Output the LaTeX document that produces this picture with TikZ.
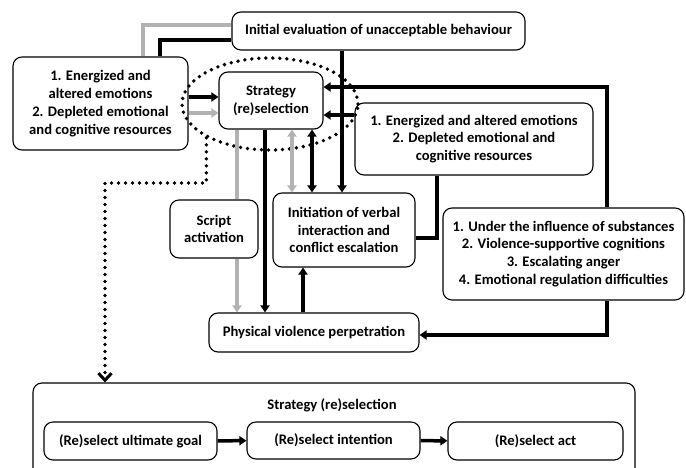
\documentclass[tikz,border=0pt]{standalone}
\usepackage{fontspec}
\setmainfont{Carlito}
\usetikzlibrary{arrows.meta,shapes.geometric}

\begin{document}
\begin{tikzpicture}[x=1pt,y=-1pt,
	box/.style={draw,rounded corners=9pt,line width=1.1pt,align=center,inner sep=0pt,
		font=\bfseries\fontsize{14.6}{17.8}\selectfont},
	blk/.style={line width=3.5pt},
	gry/.style={line width=3.5pt,gray!60},
	dots/.style={line width=3.8pt,line cap=round,dash pattern=on 0pt off 7pt},
	>={Triangle[length=7pt,width=9pt]}]
	\useasboundingbox (0,0) rectangle (686,468);
				\node[box,minimum width=293pt,minimum height=38pt] (eval) at (378.5,31) {Initial evaluation of unacceptable behaviour};
				\node[box,minimum width=175pt,minimum height=93pt] (emoL) at (100.5,103.5) {1. Energized and\\altered emotions\\2. Depleted emotional\\and cognitive resources};
				\node[box,minimum width=104pt,minimum height=57pt] (strat) at (271,100.5) {Strategy\\(re)selection};
				\node[box,minimum width=238pt,minimum height=72pt] (emoR) at (474,139) {1. Energized and altered emotions\\2. Depleted emotional and\\cognitive resources};
				\node[box,minimum width=88pt,minimum height=58pt] (script) at (214,229) {Script\\activation};
				\node[box,minimum width=142pt,minimum height=74pt] (init) at (344,230) {Initiation of verbal\\interaction and\\conflict escalation};
				\node[box,minimum width=210pt,minimum height=39pt] (phys) at (314,332.5) {Physical violence perpetration};
				\node[box,minimum width=241pt,minimum height=92pt] (under) at (563.5,254) {1. Under the influence of substances\\2. Violence-supportive cognitions\\3. Escalating anger\\4. Emotional regulation difficulties};
				\node[box,minimum width=602pt,minimum height=94pt] (big) at (334,430) {};
				\node[font=\bfseries\fontsize{14.6}{17.8}\selectfont] (title) at (332,405) {Strategy (re)selection};
				\node[box,minimum width=173pt,minimum height=38pt] (goal) at (130.5,441) {(Re)select ultimate goal};
				\node[box,minimum width=173pt,minimum height=37pt] (intent) at (333.5,440.5) {(Re)select intention};
				\node[box,minimum width=175pt,minimum height=38pt] (act) at (535.5,441) {(Re)select act};
				\node[draw,ellipse,dots,minimum width=176pt,minimum height=92pt] (ring) at (270,104) {};
				\draw[gry] ([yshift=6pt]eval.west) -| ([xshift=42.5pt]emoL.north);
				\draw[blk] ([yshift=-9pt]eval.west) -| ([xshift=59.5pt]emoL.north);
				\coordinate (a1) at ([yshift=6.5pt]emoL.east);
				\coordinate (a2) at ([yshift=-9.5pt]emoL.east);
				\draw[blk,->] (a1) -- (a1 -| strat.west);
				\draw[gry,->] (a2) -- (a2 -| strat.west);
				\draw[blk,->] ([xshift=43.5pt]under.north) |- ([yshift=13.5pt]strat.east);
				\coordinate (a3) at ([yshift=24pt]emoR.west);
				\draw[blk,->] (a3) -- (a3 -| strat.east);
				\coordinate (e1) at ([xshift=-36.5pt]eval.south);
				\draw[blk,->] (e1) -- (e1 |- init.north);
				\draw[blk] ([yshift=-8pt]init.east) -| ([xshift=-37pt]emoR.south);
				\draw[blk,->] ([xshift=43.5pt]under.south) |- ([yshift=-2.5pt]phys.east);
				\coordinate (s1) at ([xshift=21pt]strat.south);
				\coordinate (s2) at ([xshift=41pt]strat.south);
				\coordinate (s3) at ([xshift=-6pt]strat.south);
				\coordinate (s4) at ([xshift=-34pt]strat.south);
				\draw[gry,<->] (s1) -- (s1 |- init.north);
				\draw[blk,<->] (s2) -- (s2 |- init.north);
				\draw[blk,->] (s3) -- (s3 |- phys.north);
				\draw[gry] (s4) -- (s4 |- script.north);
				\draw[gry,->] (s4 |- script.south) -- (s4 |- phys.north);
				\coordinate (p1) at ([xshift=-11pt]phys.north);
				\draw[blk,->] (p1) -- (p1 |- init.south);
				\coordinate (bend) at (105,183);
				\draw[dots,-{Straight Barb[length=7pt,width=13pt,line width=3pt]}] (ring.208) |- (bend) -- (bend |- big.north);
				\draw[blk,->] (goal) -- (intent);
				\draw[blk,->] (intent) -- (act);
\end{tikzpicture}
\end{document}
